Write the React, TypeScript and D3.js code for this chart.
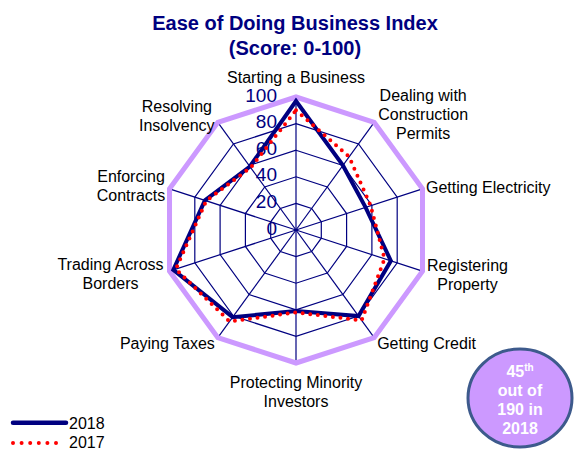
import React from "react";
import * as d3 from "d3";

const categories = [
  ["Starting a Business"],
  ["Dealing with", "Construction", "Permits"],
  ["Getting Electricity"],
  ["Registering", "Property"],
  ["Getting Credit"],
  ["Protecting Minority", "Investors"],
  ["Paying Taxes"],
  ["Trading Across", "Borders"],
  ["Enforcing", "Contracts"],
  ["Resolving", "Insolvency"],
];
const values2018 = [97, 60, 55, 75, 80, 61, 81, 97, 72, 59];
const values2017 = [90, 68, 59, 70, 84, 62, 85, 95, 71, 58];
const ticks = [0, 20, 40, 60, 80, 100];
const badgeLines = ["out of", "190 in", "2018"];

// label layout: offset from the 100-ring vertex, anchor
const labelLayout: { dx: number; dy: number; anchor: string }[] = [
  { dx: 0, dy: -14, anchor: "middle" },
  { dx: 49, dy: -21.4, anchor: "middle" },
  { dx: 3.5, dy: 4, anchor: "start" },
  { dx: 45, dy: 0, anchor: "middle" },
  { dx: 3, dy: 11.5, anchor: "start" },
  { dx: 0, dy: 25, anchor: "middle" },
  { dx: -3, dy: 11.5, anchor: "end" },
  { dx: -59, dy: -1, anchor: "middle" },
  { dx: -38.5, dy: -7, anchor: "middle" },
  { dx: -41, dy: -10.5, anchor: "middle" },
];

const W = 575;
const H = 450;
const cx = 296;
const cy = 230;
const R = 133;
const NAVY = "#000080";
const PURPLE = "#cc99ff";
const FONT = "'Liberation Sans', Arial, Helvetica, sans-serif";

export default function App() {
  const n = categories.length;
  const r = d3.scaleLinear().domain([0, 100]).range([0, R]);
  const angle = (i: number) => (i * 2 * Math.PI) / n;
  const pt = (i: number, v: number): [number, number] => [
    cx + r(v) * Math.sin(angle(i)),
    cy - r(v) * Math.cos(angle(i)),
  ];
  const radial = d3
    .lineRadial<number>()
    .angle((_, i) => angle(i))
    .radius((v) => r(v))
    .curve(d3.curveLinearClosed);
  const ringPath = (v: number) => radial(d3.range(n).map(() => v)) as string;

  return (
    <svg
      width={W}
      height={H}
      style={{ position: "absolute", left: 0, top: 0, background: "#fff" }}
      fontFamily={FONT}
    >
      <text x={295} y={30} textAnchor="middle" fontSize={20} fontWeight="bold" fill={NAVY}>
        Ease of Doing Business Index
      </text>
      <text x={295} y={55} textAnchor="middle" fontSize={20} fontWeight="bold" fill={NAVY}>
        (Score: 0-100)
      </text>

      <g transform={`translate(${cx},${cy})`}>
        {ticks.slice(1).map((t) => (
          <path key={t} d={ringPath(t)} fill="none" stroke={NAVY} strokeWidth={1.2} />
        ))}
        {d3.range(n).map((i) => {
          const [x, y] = pt(i, 100);
          return (
            <line key={i} x1={0} y1={0} x2={x - cx} y2={y - cy} stroke={NAVY} strokeWidth={1.2} />
          );
        })}
        <path d={ringPath(100)} fill="none" stroke={PURPLE} strokeWidth={5} strokeLinejoin="miter" />
      </g>

      {ticks.map((t) => (
        <text
          key={t}
          x={277}
          y={cy - r(t) - 2}
          textAnchor="end"
          dominantBaseline="central"
          fontSize={19}
          fill={NAVY}
        >
          {t}
        </text>
      ))}

      <g transform={`translate(${cx},${cy})`}>
        <path
          d={radial(values2018) as string}
          fill="none"
          stroke={NAVY}
          strokeWidth={4}
          strokeLinejoin="miter"
        />
        <path
          d={radial(values2017) as string}
          fill="none"
          stroke="#ff0000"
          strokeWidth={4}
          strokeLinecap="round"
          strokeDasharray="0 7.6"
        />
      </g>

      {categories.map((lines, i) => {
        const [x, y] = pt(i, 100);
        const L = labelLayout[i];
        return (
          <text key={i} x={x + L.dx} y={y + L.dy} textAnchor={L.anchor} fontSize={16} fill="#000">
            {lines.map((s, j) => (
              <tspan key={j} x={x + L.dx} dy={j === 0 ? 0 : 18.8}>
                {s}
              </tspan>
            ))}
          </text>
        );
      })}

      <ellipse cx={520} cy={398} rx={52} ry={49} fill={PURPLE} stroke="#3d5a8c" strokeWidth={3} />
      <text x={520} y={377} textAnchor="middle" fontSize={16} fontWeight="bold" fill="#fff">
        45<tspan fontSize={10} dy={-6}>th</tspan>
      </text>
      {badgeLines.map((s, j) => (
        <text key={s} x={520} y={395.5 + j * 19} textAnchor="middle" fontSize={16} fontWeight="bold" fill="#fff">
          {s}
        </text>
      ))}

      <line x1={13} y1={422.7} x2={66} y2={422.7} stroke={NAVY} strokeWidth={4.5} strokeLinecap="round" />
      <text x={69} y={428.5} fontSize={16} fill="#000">2018</text>
      <line
        x1={13}
        y1={443}
        x2={64}
        y2={443}
        stroke="#ff0000"
        strokeWidth={4}
        strokeLinecap="round"
        strokeDasharray="0 8.6"
      />
      <text x={69} y={447.5} fontSize={16} fill="#000">2017</text>
    </svg>
  );
}
